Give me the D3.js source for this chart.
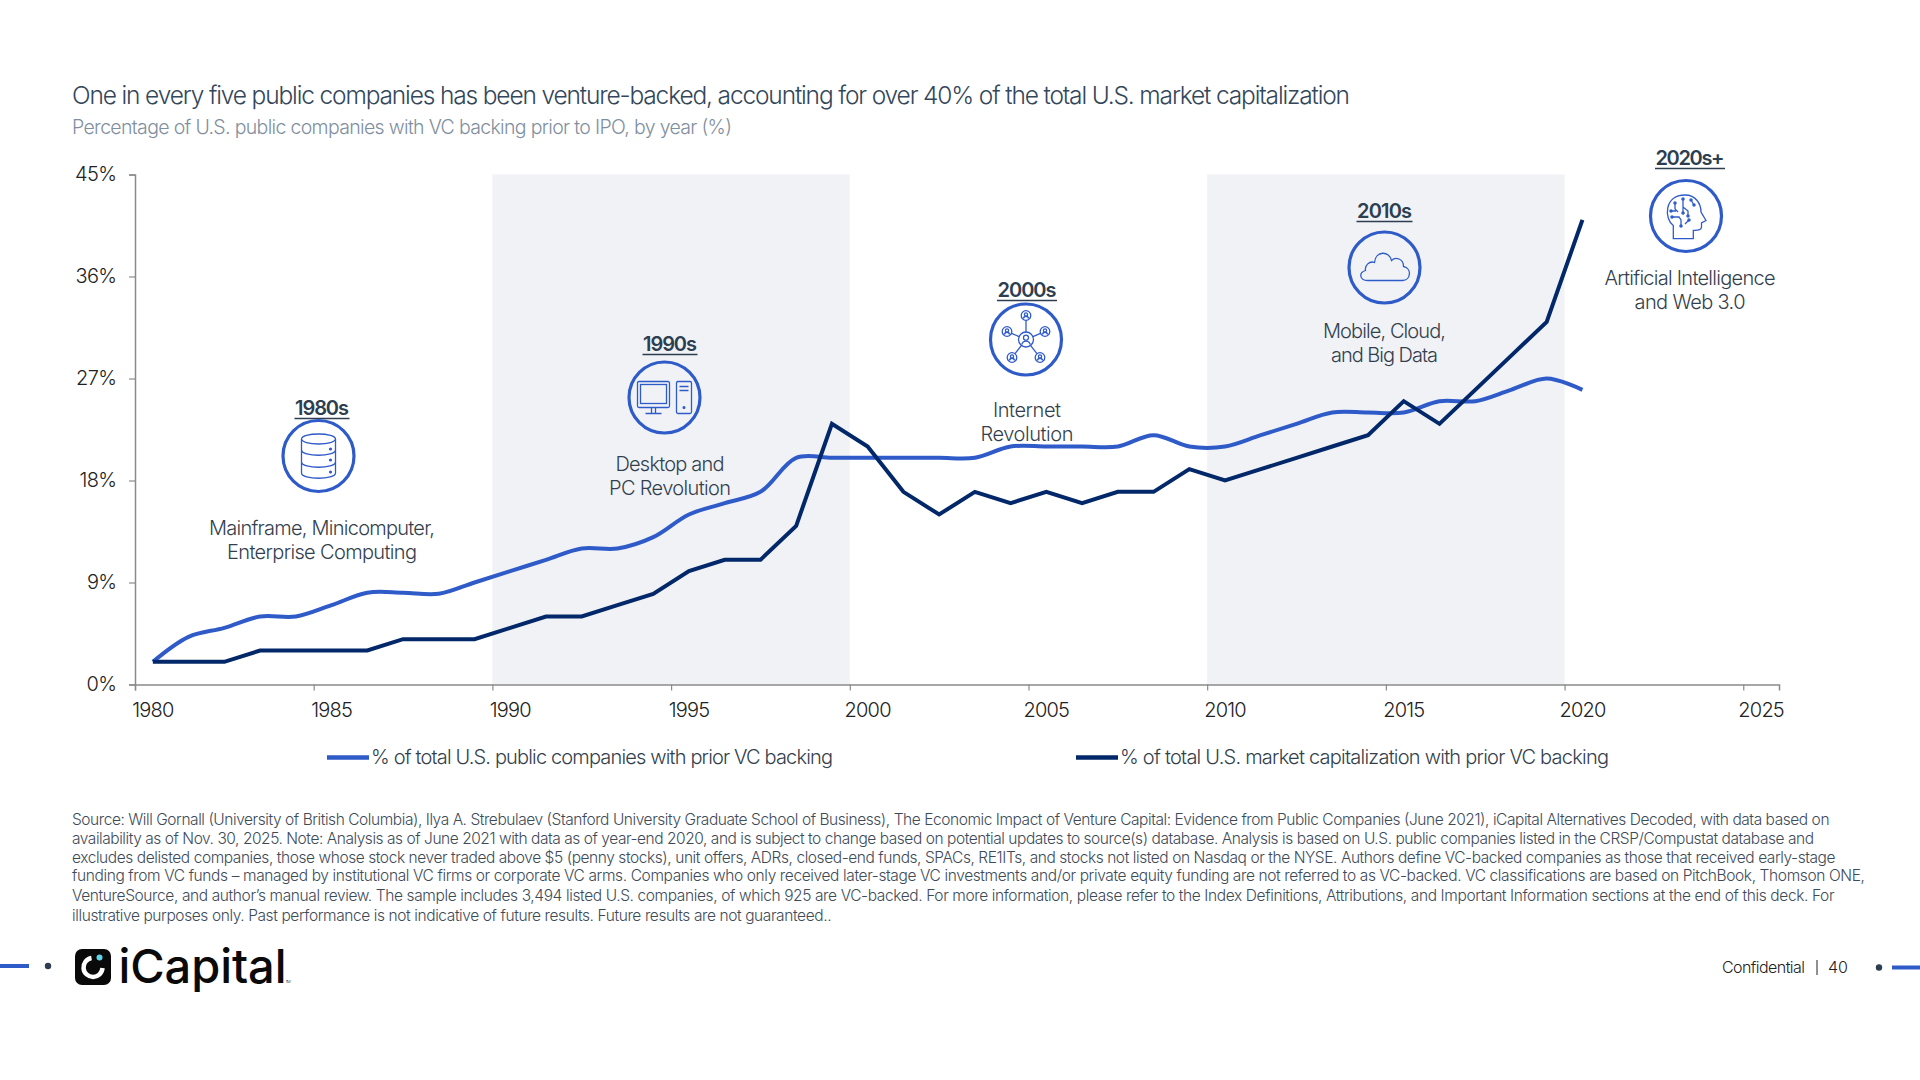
<!DOCTYPE html>
<html>
<head>
<meta charset="utf-8">
<script src="https://cdn.jsdelivr.net/npm/d3@7"></script>
<style>
  body { margin: 0; background: #fff; }
  text { font-family: Inter, "Noto Sans", sans-serif; font-weight: 300; }
</style>
</head>
<body>
<script>
// data
const years = d3.range(1980, 2021);
const companiesPct = [2, 4.2, 5, 6, 6, 7, 8.1, 8.1, 8, 9, 10, 11, 12, 12, 13, 15, 16, 17, 20, 20,
                      20, 20, 20, 20, 21, 21, 21, 21, 22, 21, 21, 22, 23, 24, 24, 24, 25, 25, 26, 27, 26];
const marketCapPct = [2, 2, 2, 3, 3, 3, 3, 4, 4, 4, 5, 6, 6, 7, 8, 10, 11, 11, 14, 23,
                      21, 17, 15, 17, 16, 17, 16, 17, 17, 19, 18, 19, 20, 21, 22, 25, 23, 26, 29, 32, 41];
const yTicks = [0, 9, 18, 27, 36, 45];
const xTicks = [1980, 1985, 1990, 1995, 2000, 2005, 2010, 2015, 2020, 2025];
const shadedDecades = [[1990, 2000], [2010, 2020]];
const seriesNames = ['% of total U.S. public companies with prior VC backing',
                     '% of total U.S. market capitalization with prior VC backing'];
const eraNames = ['1980s', '1990s', '2000s', '2010s', '2020s+'];
const eraText = [['Mainframe, Minicomputer,', 'Enterprise Computing'],
                 ['Desktop and', 'PC Revolution'],
                 ['Internet', 'Revolution'],
                 ['Mobile, Cloud,', 'and Big Data'],
                 ['Artificial Intelligence', 'and Web 3.0']];
const sourceLines = [
  'Source: Will Gornall (University of British Columbia), Ilya A. Strebulaev (Stanford University Graduate School of Business), The Economic Impact of Venture Capital: Evidence from Public Companies (June 2021), iCapital Alternatives Decoded, with data based on',
  'availability as of Nov. 30, 2025. Note: Analysis as of June 2021 with data as of year-end 2020, and is subject to change based on potential updates to source(s) database. Analysis is based on U.S. public companies listed in the CRSP/Compustat database and',
  'excludes delisted companies, those whose stock never traded above $5 (penny stocks), unit offers, ADRs, closed-end funds, SPACs, RE1ITs, and stocks not listed on Nasdaq or the NYSE. Authors define VC-backed companies as those that received early-stage',
  'funding from VC funds – managed by institutional VC firms or corporate VC arms. Companies who only received later-stage VC investments and/or private equity funding are not referred to as VC-backed. VC classifications are based on PitchBook, Thomson ONE,',
  'VentureSource, and author’s manual review. The sample includes 3,494 listed U.S. companies, of which 925 are VC-backed. For more information, please refer to the Index Definitions, Attributions, and Important Information sections at the end of this deck. For',
  'illustrative purposes only. Past performance is not indicative of future results. Future results are not guaranteed..'
];

// layout
const svgW = 1920, svgH = 1080;
const plot = { left: 135, right: 1779, top: 174.5, bottom: 684.5 };
const blue = '#2f5bc9', navy = '#03286a', slate = '#2c3e4f', grey = '#8a8a8a';

const svg = d3.select('body').append('svg').attr('width', svgW).attr('height', svgH);

// years sit in the middle of a yearly slot, ticks on the slot edge
const xScale = d3.scaleLinear().domain([1980, 2026]).range([plot.left, plot.right]);
const yScale = d3.scaleLinear().domain([0, 45]).range([plot.bottom, plot.top]);
const slot = xScale(1981) - xScale(1980);

// squeezes a text to the width it has in the picture
function put(parent, str, x, y, size, width, color, anchor) {
  return parent.append('text')
    .attr('x', x).attr('y', y)
    .attr('font-size', size)
    .attr('fill', color)
    .attr('text-anchor', anchor || 'start')
    .attr('textLength', width)
    .attr('lengthAdjust', 'spacing')
    .text(str);
}

put(svg, 'One in every five public companies has been venture-backed, accounting for over 40% of the total U.S. market capitalization', 72, 104, 24.5, 1278, '#33475b');
put(svg, 'Percentage of U.S. public companies with VC backing prior to IPO, by year (%)', 72, 134, 19.5, 660, '#7f8fa0');

svg.selectAll('rect.decade')
  .data(shadedDecades)
  .enter()
  .append('rect')
  .attr('class', 'decade')
  .attr('x', d => xScale(d[0]))
  .attr('y', plot.top)
  .attr('width', d => xScale(d[1]) - xScale(d[0]))
  .attr('height', plot.bottom - plot.top)
  .attr('fill', '#f0f2f6');

// axes
const xAxis = d3.axisBottom(xScale).tickValues(xTicks).tickFormat(d3.format('d')).tickSizeOuter(0).tickSize(6);
const yAxis = d3.axisLeft(yScale).tickValues(yTicks).tickFormat(d => d + '%').tickSizeOuter(0).tickSize(6);

const gx = svg.append('g').attr('transform', `translate(0, ${plot.bottom})`).call(xAxis);
const gy = svg.append('g').attr('transform', `translate(${plot.left}, 0)`).call(yAxis);

gx.selectAll('text').attr('x', slot / 2 - 0.5).attr('y', 18).attr('dy', '0.71em')
  .attr('font-size', 20).attr('letter-spacing', -0.8).attr('fill', '#222').attr('text-anchor', 'middle');
gy.selectAll('text').attr('x', -18.5).attr('font-size', 20).attr('letter-spacing', -0.6).attr('fill', '#222');
[gx, gy].forEach(g => {
  g.select('.domain').attr('stroke', grey).attr('stroke-width', 1.5);
  g.selectAll('.tick line').attr('stroke', grey).attr('stroke-width', 1.2);
});

// lines
const smoothLine = d3.line()
  .x((d, i) => xScale(years[i] + 0.5))
  .y(d => yScale(d))
  .curve(d3.curveCatmullRom.alpha(0.5));
const straightLine = d3.line()
  .x((d, i) => xScale(years[i] + 0.5))
  .y(d => yScale(d));

svg.append('path').attr('d', smoothLine(companiesPct))
  .attr('fill', 'none').attr('stroke', blue).attr('stroke-width', 4);
svg.append('path').attr('d', straightLine(marketCapPct))
  .attr('fill', 'none').attr('stroke', navy).attr('stroke-width', 4);

// legend
const legendPos = [{ x1: 327, x2: 369, tx: 371, w: 462, c: blue }, { x1: 1076, x2: 1118, tx: 1120, w: 489, c: navy }];
seriesNames.forEach((name, i) => {
  const p = legendPos[i];
  svg.append('line').attr('x1', p.x1).attr('x2', p.x2).attr('y1', 757.5).attr('y2', 757.5)
    .attr('stroke', p.c).attr('stroke-width', 4.5);
  put(svg, name, p.tx, 764, 20, p.w, '#333f4d');
});

// era call-outs, positions
const eraPos = [
  { lx: 322, ly: 415, lw: 55, cx: 318.5, cy: 456, ty: 534.5, tw: [226, 190] },
  { lx: 670, ly: 351, lw: 55, cx: 664.5, cy: 397.5, ty: 471, tw: [109, 122] },
  { lx: 1027, ly: 297, lw: 60, cx: 1026, cy: 339.5, ty: 417, tw: [68, 93] },
  { lx: 1384.5, ly: 218, lw: 56, cx: 1384.5, cy: 267.5, ty: 338, tw: [123, 107] },
  { lx: 1690, ly: 165, lw: 70, cx: 1686, cy: 216, ty: 285, tw: [171, 111] }
];

const iconDraw = [
  // database
  g => {
    g.append('ellipse').attr('cx', 0).attr('cy', -17).attr('rx', 17).attr('ry', 5);
    g.append('path').attr('d', 'M-17,-17V17C-17,24 17,24 17,17V-17');
    g.append('path').attr('d', 'M-17,-6C-17,1 17,1 17,-6');
    g.append('path').attr('d', 'M-17,6C-17,13 17,13 17,6');
    [-6, 5, 17].forEach(y => g.append('circle').attr('cx', 12).attr('cy', y - 1).attr('r', 0.9).attr('fill', blue));
  },
  // desktop and tower
  g => {
    g.append('rect').attr('x', -27).attr('y', -16).attr('width', 32).attr('height', 26).attr('rx', 1.5);
    g.append('rect').attr('x', -24).attr('y', -13).attr('width', 26).attr('height', 19);
    g.append('path').attr('d', 'M-13,10V16M-9,10V16M-19,16H-3');
    g.append('rect').attr('x', 12).attr('y', -16).attr('width', 15).attr('height', 32).attr('rx', 1.5);
    g.append('path').attr('d', 'M15,-11H24M15,-7H24');
    g.append('circle').attr('cx', 19.5).attr('cy', 10).attr('r', 0.9).attr('fill', blue);
  },
  // network of people
  g => {
    const nodes = [[0, -24], [-19, -8], [19, -8], [-14, 18], [14, 18]];
    nodes.forEach(n => {
      const d = Math.hypot(n[0], n[1]);
      g.append('line').attr('x1', n[0] * 7 / d).attr('y1', n[1] * 7 / d)
        .attr('x2', n[0] * (d - 5) / d).attr('y2', n[1] * (d - 5) / d);
      g.append('circle').attr('cx', n[0]).attr('cy', n[1]).attr('r', 4.8);
      g.append('circle').attr('cx', n[0]).attr('cy', n[1] - 1).attr('r', 1.6);
      g.append('path').attr('d', `M${n[0] - 2.6},${n[1] + 3}C${n[0] - 2},${n[1]} ${n[0] + 2},${n[1]} ${n[0] + 2.6},${n[1] + 3}`);
    });
    g.append('circle').attr('r', 7.5);
    g.append('circle').attr('cy', -1.8).attr('r', 2.5);
    g.append('path').attr('d', 'M-4.3,5C-3,0.5 3,0.5 4.3,5');
  },
  // cloud
  g => {
    g.append('path').attr('d', 'M-17,13H18C26,13 28,1 19,-1C19,-9 11,-11 7,-7C5,-17 -9,-17 -10,-5C-15,-7 -20,-2 -19,3C-26,5 -25,13 -17,13Z');
  },
  // head with circuit
  g => {
    g.append('path').attr('d', 'M-12.7,22.7V9.5C-22,3 -22,-21 -1,-21C10,-21 15,-12 15,-4L20,4.5L15.5,7V11C15.5,13.5 13,14.5 7.3,14.3V22.7Z');
    g.append('path').attr('d', 'M-11,-13V-7L-8,-4M-15,-5H-10M-14,1H-7L-5,4V10M-3,-17V-3M-3,-9L2,-5V0M5,-16L8,-11M3,4L-1,8');
    [[-11, -13], [-15, -5], [-14, 1], [-3, -17], [-3, -3], [2, 0], [5, -16], [8, -11], [3, 4], [-5, 10]].forEach(p =>
      g.append('circle').attr('cx', p[0]).attr('cy', p[1]).attr('r', 1.1).attr('fill', blue));
  }
];

eraNames.forEach((name, i) => {
  const p = eraPos[i];
  put(svg, name, p.lx, p.ly, 20, p.lw - 1, slate, 'middle').style('font-weight', 600);
  svg.append('line').attr('x1', p.lx - p.lw / 2).attr('x2', p.lx + p.lw / 2)
    .attr('y1', p.ly + 3.5).attr('y2', p.ly + 3.5).attr('stroke', slate).attr('stroke-width', 1.6);
  svg.append('circle').attr('cx', p.cx).attr('cy', p.cy).attr('r', 35.5)
    .attr('fill', 'none').attr('stroke', blue).attr('stroke-width', 3.2);
  const icon = svg.append('g').attr('transform', `translate(${p.cx}, ${p.cy})`)
    .attr('fill', 'none').attr('stroke', blue).attr('stroke-width', 1.3);
  iconDraw[i](icon);
  eraText[i].forEach((line, j) => {
    put(svg, line, p.lx, p.ty + j * 24, 20, p.tw[j], '#333f4d', 'middle');
  });
});

// source note
const sourceY = [825, 843.5, 863, 881, 901, 921];
const sourceW = [1757.5, 1742, 1763.5, 1793, 1762.5, 759.5];
sourceLines.forEach((line, i) => {
  put(svg, line, 72, sourceY[i], 15.5, sourceW[i], '#3d4b59');
});

// footer
svg.append('line').attr('x1', 0).attr('x2', 29).attr('y1', 966).attr('y2', 966).attr('stroke', blue).attr('stroke-width', 4);
svg.append('circle').attr('cx', 48).attr('cy', 966).attr('r', 3.2).attr('fill', slate);
svg.append('line').attr('x1', 1892).attr('x2', 1920).attr('y1', 967.5).attr('y2', 967.5).attr('stroke', blue).attr('stroke-width', 4);
svg.append('circle').attr('cx', 1879).attr('cy', 967.5).attr('r', 3.2).attr('fill', slate);
put(svg, 'Confidential', 1722, 973, 16, 83, '#222');
svg.append('line').attr('x1', 1817).attr('x2', 1817).attr('y1', 960).attr('y2', 975).attr('stroke', '#222').attr('stroke-width', 1);
put(svg, '40', 1828, 973, 16, 20, '#222');

// logo
svg.append('rect').attr('x', 75).attr('y', 949).attr('width', 36).attr('height', 36).attr('rx', 7).attr('fill', '#0a0a0a');
svg.append('path').attr('d', 'M91.5,958A9.5,9.5 0 1 0 102.5,968').attr('fill', 'none').attr('stroke', '#fff').attr('stroke-width', 4.5);
svg.append('circle').attr('cx', 99.5).attr('cy', 957.5).attr('r', 3).attr('fill', '#5fd4e6');
put(svg, 'iCapital', 118.5, 983, 47, 168, '#0a0a0a').style('font-weight', 500);
put(svg, 'TM', 285.5, 983, 4, 5, '#0a0a0a');
</script>
</body>
</html>
